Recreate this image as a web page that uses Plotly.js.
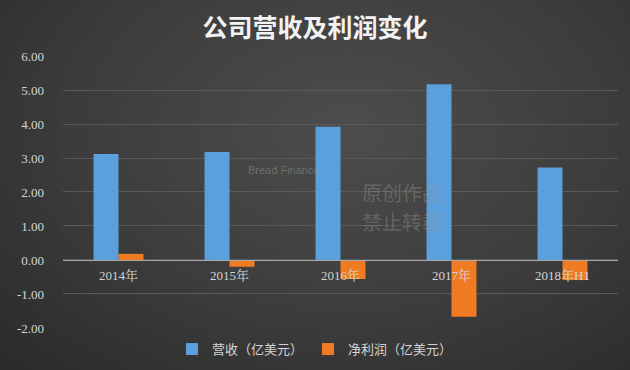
<!DOCTYPE html>
<html><head><meta charset="utf-8">
<script src="https://cdn.plot.ly/plotly-3.0.1.min.js"></script>
<style>
html,body{margin:0;padding:0;}
body{width:630px;height:370px;background:radial-gradient(ellipse at 55% 35%, #4d4d4d 0%, #3c3c3c 55%, #2a2a2a 100%);}
#chart{width:630px;height:370px;}
</style></head>
<body><div id="chart"></div>
<script>
const categories = ['2014年','2015年','2016年','2017年','2018年H1'];
const revenue = [3.12, 3.18, 3.92, 5.17, 2.72];
const netProfit = [0.18, -0.20, -0.56, -1.67, -0.59];
const seriesNames = ['营收（亿美元）','净利润（亿美元）'];
const yTicks = [-2,-1,0,1,2,3,4,5,6];
const yTickText = ['-2.00','-1.00','0.00','1.00','2.00','3.00','4.00','5.00','6.00'];

const labelFont = {family:'Liberation Serif, Noto Serif CJK SC, Noto Sans CJK SC, serif', size:13, color:'#d4d4d4'};
const domStart = 0.0423;
const zeroPos = domStart + 0.25*(1-domStart);
const wmFont = {family:'Noto Sans CJK SC, sans-serif', size:20, color:'rgba(150,150,150,0.4)'};

const data = [
  {type:'bar', x:categories, y:revenue, name:seriesNames[0], marker:{color:'#5b9fdc'}},
  {type:'bar', x:categories, y:netProfit, name:seriesNames[1], marker:{color:'#f07b22'}}
];
const layout = {
  width:630, height:370,
  paper_bgcolor:'rgba(0,0,0,0)', plot_bgcolor:'rgba(0,0,0,0)',
  margin:{l:63, r:12, t:56, b:30, autoexpand:false},
  title:{text:'公司营收及利润变化', x:0.5, xanchor:'center', y:0.925, yanchor:'middle',
         font:{family:'Noto Sans CJK SC, sans-serif', size:25, color:'#f2f2f2', weight:'bold'}},
  barmode:'group', bargap:0.55, bargroupgap:0,
  showlegend:true,
  legend:{orientation:'h', x:0.454, xanchor:'center', y:-0.032, yanchor:'middle',
          font:{family:'Noto Sans CJK SC, sans-serif', size:13, color:'#d4d4d4'},
          itemwidth:30, traceorder:'normal'},
  xaxis:{anchor:'free', position:zeroPos, showline:true, linecolor:'#a8a8a8', linewidth:1,
         ticks:'', showgrid:false, tickfont:labelFont, ticklabelstandoff:3, tickangle:0, fixedrange:true},
  yaxis:{domain:[domStart,1], range:[-2,6], tickvals:yTicks, ticktext:yTickText, tickfont:labelFont,
         showgrid:true, gridcolor:'#595959', gridwidth:1, zeroline:false,
         ticklabelstandoff:18, showline:false},
  annotations:[
    {text:'Bread Finance', xref:'paper', yref:'paper', x:0.33, y:0.6, showarrow:false,
     font:{family:'Liberation Sans, sans-serif', size:11, color:'rgba(150,150,150,0.5)'}},
    {text:'原创作品', xref:'paper', yref:'paper', x:0.611, y:0.518, showarrow:false, font:wmFont},
    {text:'禁止转载', xref:'paper', yref:'paper', x:0.611, y:0.418, showarrow:false, font:wmFont}
  ]
};
Plotly.newPlot('chart', data, layout, {displayModeBar:false, staticPlot:true});
</script>
</body></html>
